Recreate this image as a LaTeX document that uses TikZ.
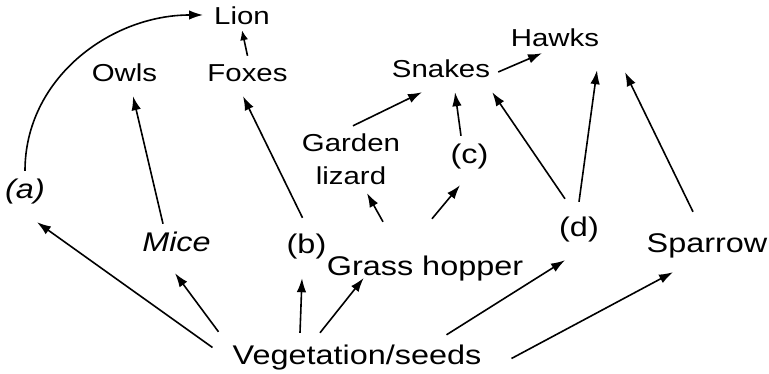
\documentclass[tikz,border=0pt]{standalone}
\usepackage{fontspec}
\setmainfont{Liberation Sans}[FakeStretch=1.2]
\usetikzlibrary{arrows.meta}

\begin{document}
\begin{tikzpicture}[
    x=1pt, y=1pt,
    upper/.style = {inner sep=8pt, anchor=base, text height=18pt, text depth=6pt, font=\fontsize{24.5}{29}\selectfont},
    lower/.style = {inner sep=8pt, anchor=base, text height=20pt, text depth=7pt, font=\fontsize{27}{32}\selectfont},
    twoline/.style = {inner sep=8pt, align=center, font=\fontsize{24.5}{33}\selectfont},
    arr/.style   = {-{Latex[length=14pt,width=9.5pt]}, line width=1.6pt}
]
\useasboundingbox (0,0) rectangle (769,374);

% ---- Top consumers ----
\node[upper] (lion)   at (242,349)   {Lion};
\node[upper] (owls)   at (124.5,292) {Owls};
\node[upper] (foxes)  at (247.5,292) {Foxes};
\node[upper] (snakes) at (441,296)   {Snakes};
\node[upper] (hawks)  at (555,327)   {Hawks};
\node[twoline] (lizard) at (351,214.5) {Garden\\lizard};

% ---- Lower row ----
\node[lower] (c)       at (469.5,210) {(c)};
\node[lower] (a)       at (25,175)    {\itshape(a)};
\node[lower] (mice)    at (176.5,122) {\itshape Mice};
\node[lower] (b)       at (306.5,120) {(b)};
\node[lower] (grass)   at (425,98)    {Grass hopper};
\node[lower] (d)       at (579,137)   {(d)};
\node[lower] (sparrow) at (707,121)   {Sparrow};
\node[lower] (veg)     at (357,9)     {Vegetation/seeds};

% ---- From vegetation ----
\draw[arr] ([shift={(-12,11)}]veg.west)       -- ([shift={(12,-8)}]a.south);
\draw[arr] ([shift={(-6,5)}]veg.north west)   -- ([shift={(-1.5,-6)}]mice.south);
\draw[arr] ([shift={(-57,4)}]veg.north)       -- ([shift={(-4.5,-9)}]b.south);
\draw[arr] ([shift={(-37,4)}]veg.north)       -- ([shift={(45,-8.5)}]grass.west);
\draw[arr] ([shift={(-43,2)}]veg.north east)  -- ([shift={(-14,-8)}]d.south);
\draw[arr] ([xshift=22pt]veg.east)            -- ([shift={(-34,-4)}]sparrow.south);

% ---- Middle links ----
\draw[arr] ([shift={(-42,26)}]grass.north)    -- ([xshift=16pt]lizard.south);
\draw[arr] ([shift={(7,29)}]grass.north)      -- ([shift={(-9.5,-6)}]c.south);
\draw[arr] ([xshift=-13.5pt]mice.north)       -- ([xshift=8.5pt]owls.south);
\draw[arr] ([shift={(-4,8)}]b.north)          -- ([xshift=-4.5pt]foxes.south);
\draw[arr] ([xshift=2pt]lizard.north)         -- ([xshift=-19pt]snakes.south);
\draw[arr] ([xshift=-8.5pt]c.north)           -- ([xshift=14pt]snakes.south);
\draw[arr] ([shift={(-14,10)}]d.north)        -- ([xshift=-6pt]snakes.south east);
\draw[arr] ([yshift=7pt]d.north)              -- ([shift={(42,-9)}]hawks.south);
\draw[arr] ([shift={(-14,13)}]sparrow.north)  -- ([shift={(70,-11)}]hawks.south);

% ---- Top links ----
\draw[arr] (snakes.east)                      -- ([shift={(-13,8)}]hawks.south);
\draw[arr, -{Latex[length=10pt,width=8pt]}] (foxes.north) -- ([yshift=9pt]lion.south);
\draw[arr] (a.north) to[out=90, in=180]       ([shift={(-3,4)}]lion.west);

\end{tikzpicture}
\end{document}
